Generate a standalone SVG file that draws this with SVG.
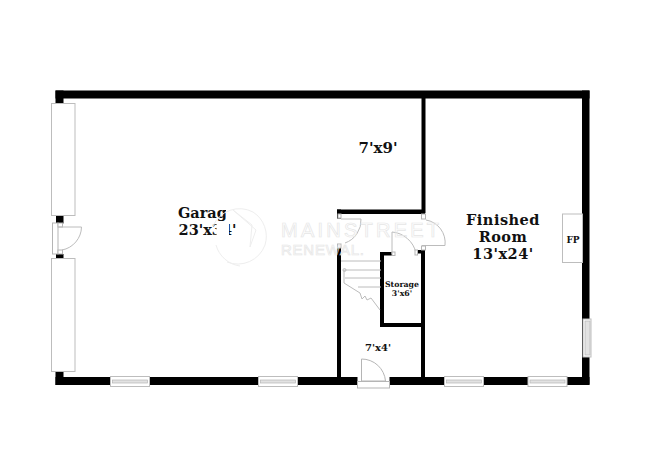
<svg xmlns="http://www.w3.org/2000/svg" width="650" height="473" viewBox="0 0 650 473">
<style>
.wall{fill:#000}
.win{fill:#fff;stroke:#bdbdbd;stroke-width:1}
.glass{fill:#e2e2e2;stroke:#b5b5b5;stroke-width:.7}
.thin{fill:none;stroke:#bcbcbc;stroke-width:1}
.door{fill:#fff;stroke:#b5b5b5;stroke-width:1}
.t{font-family:"DejaVu Serif","Liberation Serif",serif;font-weight:700;fill:#111;text-anchor:middle}
.wm{font-family:"Liberation Sans",sans-serif;fill:none;stroke:#e6e6e6;stroke-width:.7}
</style>
<rect width="650" height="473" fill="#fff"/>
<g id="walls">
<rect class="wall" x="55.500" y="90.500" width="534" height="8"/>
<rect class="wall" x="55.500" y="90.500" width="8" height="14"/>
<rect class="wall" x="56" y="215.500" width="7.500" height="8"/>
<rect class="wall" x="56" y="254" width="7.500" height="5"/>
<rect class="wall" x="55.500" y="370" width="8" height="15"/>
<rect class="wall" x="55.500" y="377" width="302" height="8"/>
<rect class="wall" x="389.500" y="377" width="200" height="8"/>
<rect class="wall" x="582" y="90.500" width="7.500" height="294"/>
<rect class="wall" x="421.500" y="98" width="4" height="115"/>
<rect class="wall" x="337" y="209.500" width="88" height="4.500"/>
<rect class="wall" x="337" y="209.500" width="4" height="9"/>
<rect class="wall" x="337" y="248" width="4" height="130"/>
<rect class="wall" x="380" y="252" width="4" height="74"/>
<rect class="wall" x="380" y="252" width="12" height="3.500"/>
<rect class="wall" x="421" y="250" width="4" height="128"/>
<rect class="wall" x="416" y="250" width="9" height="3.500"/>
<rect class="wall" x="380" y="323" width="42" height="4"/>
</g>
<g id="garage-doors">
<rect class="win" x="51.500" y="103.500" width="23.500" height="112"/>
<rect class="win" x="51.500" y="258.500" width="23.500" height="113"/>
</g>
<g id="side-door">
<rect class="door" x="52.500" y="223" width="5.500" height="31"/>
<rect class="door" x="58" y="223" width="4.500" height="4"/>
<rect class="door" x="58" y="250" width="4.500" height="4"/>
<path class="thin" d="M58 227H81.500A24 24 0 0 1 62 250"/>
</g>
<g id="windows">
<rect class="win" x="110.500" y="376.500" width="39" height="10"/><rect class="glass" x="112.500" y="380" width="35" height="3"/>
<rect class="win" x="258.500" y="376.500" width="39" height="10"/><rect class="glass" x="260.500" y="380" width="35" height="3"/>
<rect class="win" x="444.500" y="376.500" width="39" height="10"/><rect class="glass" x="446.500" y="380" width="35" height="3"/>
<rect class="win" x="528" y="376.500" width="39" height="10"/><rect class="glass" x="530" y="380" width="35" height="3"/>
<rect class="win" x="583" y="319" width="8" height="38"/><rect class="glass" x="585" y="321" width="5" height="34"/>
</g>
<g id="fireplace">
<rect class="win" x="562.500" y="214" width="20" height="48.500"/>
<text class="t" x="573" y="243" font-size="9">FP</text>
</g>
<g id="stairs" class="thin">
<path d="M341 261H381M344 270H381M345 278H381M358 287H381"/>
<path d="M344 270V283L360 293"/>
<path d="M360 293L362 299L365 296L367 300L371 298L380 310"/>
<circle cx="344.500" cy="270" r="1.500"/>
</g>
<g id="hall-door">
<rect class="door" x="338" y="214" width="3" height="4"/>
<path class="thin" d="M341 219H361A24 24 0 0 1 345 243"/>
<rect class="door" x="337.500" y="244" width="3.500" height="4"/>
</g>
<g id="storage-door">
<path class="thin" d="M392 232V254M392 232A27 27 0 0 1 416 253"/>
<rect class="door" x="392" y="252" width="3" height="3.500"/>
<rect class="door" x="415" y="250" width="2.500" height="5"/>
</g>
<g id="room-door">
<path class="thin" d="M426 220A23 23 0 0 1 445 245.500H422"/>
<rect class="door" x="421.500" y="214" width="4" height="5"/>
<rect class="door" x="421.500" y="246" width="4" height="4"/>
</g>
<g id="front-door">
<rect class="door" x="357.500" y="381.500" width="32" height="6.500"/>
<path class="door" d="M361.500 381V359A24 24 0 0 1 385.500 381Z"/>
</g>
<g id="labels">
<text class="t" x="207" y="218" font-size="14.500">Garage</text>
<text class="t" x="207.500" y="235" font-size="14.500">23'x34'</text>
<text class="t" x="378" y="153" font-size="15">7'x9'</text>
<text class="t" x="503" y="225" font-size="14.500" letter-spacing=".5">Finished</text>
<text class="t" x="503" y="242" font-size="14.500" letter-spacing=".5">Room</text>
<text class="t" x="503" y="259" font-size="14.500" letter-spacing=".5">13'x24'</text>
<text class="t" x="402" y="287" font-size="7.800">Storage</text>
<text class="t" x="402" y="296" font-size="7.800">3'x6'</text>
<text class="t" x="378" y="351" font-size="10">7'x4'</text>
</g>
<g id="watermark">
<path d="M226 205H246V221H229V238H216.500V224L226 222Z" fill="#fff"/>
<path d="M213 226A29 29 0 0 1 253 212A29 29 0 0 1 265 245A29 29 0 0 1 227 262" fill="none" stroke="#eee" stroke-width="1"/>
<path d="M233 210L256 230L250 247L252 225Z" fill="none" stroke="#eee" stroke-width="1"/>
<path d="M216 245A29 29 0 0 0 240 266" fill="none" stroke="#eee" stroke-width="1"/>
<text class="wm" x="281" y="237" font-size="20" textLength="158">MAINSTREET</text>
<text class="wm" x="281" y="255" font-size="15" textLength="83">RENEWAL.</text>
</g>
</svg>
